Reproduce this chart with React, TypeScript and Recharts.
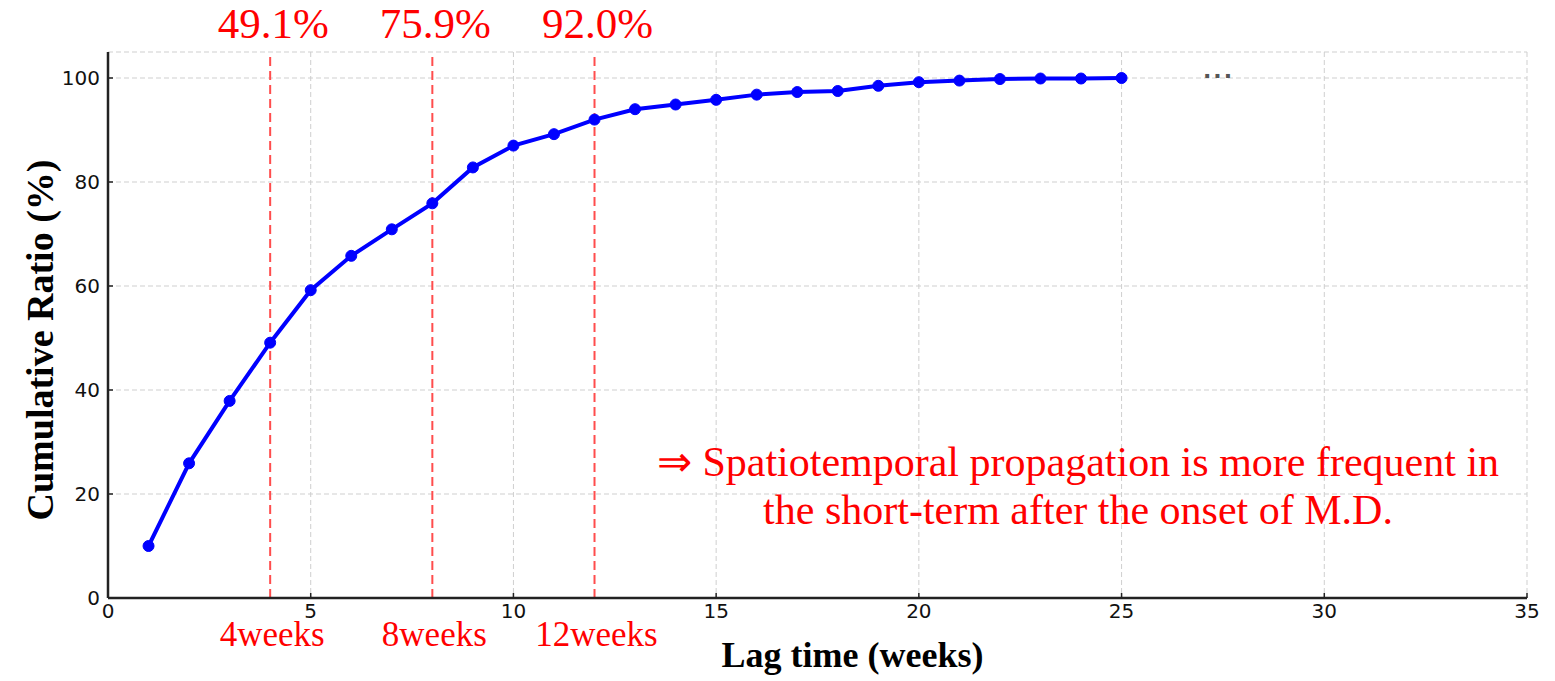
import { CartesianGrid, Line, LineChart, ReferenceLine, XAxis, YAxis } from "recharts";

const weeks = [1, 2, 3, 4, 5, 6, 7, 8, 9, 10, 11, 12, 13, 14, 15, 16, 17, 18, 19, 20, 21, 22, 23, 24, 25];
const cumulative = [
  10.0, 25.9, 37.9, 49.1, 59.2, 65.8, 70.9, 75.9, 82.8, 87.0, 89.2, 92.0, 94.0, 94.9, 95.8, 96.8, 97.3, 97.5,
  98.5, 99.2, 99.5, 99.8, 99.9, 99.9, 100.0,
];
const xTicks = [0, 5, 10, 15, 20, 25, 30, 35];
const yTicks = [0, 20, 40, 60, 80, 100];
const markers = [
  { week: 4, top: "49.1%", bottom: "4weeks" },
  { week: 8, top: "75.9%", bottom: "8weeks" },
  { week: 12, top: "92.0%", bottom: "12weeks" },
];
const note = [
  "\u21d2 Spatiotemporal propagation is more frequent in",
  "the short-term after the onset of M.D.",
];

const data = weeks.map((w, i) => ({ week: w, ratio: cumulative[i] }));

const SERIF = '"Liberation Serif", "Times New Roman", serif';
const SANS = '"DejaVu Sans", sans-serif';
const RED = "#ff0000";

function markerLabel(top: string, bottom: string) {
  return (props: any) => {
    const vb = props.viewBox || {};
    const x = vb.x ?? 0;
    const y = vb.y ?? 0;
    const h = vb.height ?? 0;
    return (
      <g>
        <text x={x + 3} y={y - 14} textAnchor="middle" fill={RED} fontFamily={SERIF} fontSize={43}>
          {top}
        </text>
        <text x={x + 2} y={y + h + 48} textAnchor="middle" fill={RED} fontFamily={SERIF} fontSize={35}>
          {bottom}
        </text>
      </g>
    );
  };
}

const XTick = (props: any) => (
  <text x={props.x} y={598 + 20} textAnchor="middle" fill="#111" fontFamily={SANS} fontSize={20}>
    {props.payload.value}
  </text>
);

const YTick = (props: any) => (
  <text x={100} y={props.y + 7} textAnchor="end" fill="#111" fontFamily={SANS} fontSize={20}>
    {props.payload.value}
  </text>
);

export default function App() {
  return (
    <div style={{ position: "absolute", left: 0, top: 0, width: 1555, height: 681, background: "#fff" }}>
      <LineChart width={1555} height={681} data={data} margin={{ top: 52, right: 28, left: 8, bottom: 8 }}>
        <CartesianGrid stroke="#cfcfcf" strokeDasharray="5 3" />
        <XAxis
          dataKey="week"
          type="number"
          domain={[0, 35]}
          ticks={xTicks}
          height={75}
          stroke="#222"
          strokeWidth={2.5}
          tickLine={{ stroke: "#222", strokeWidth: 1.5 }}
          tickSize={-5}
          tick={XTick}
          label={(props: any) => {
            const vb = props.viewBox || {};
            return (
              <text
                x={(vb.x ?? 0) + (vb.width ?? 0) / 2 + 35}
                y={667}
                textAnchor="middle"
                fontFamily={SERIF}
                fontWeight="bold"
                fontSize={36}
                fill="#000"
              >
                Lag time (weeks)
              </text>
            );
          }}
        />
        <YAxis
          type="number"
          domain={[0, 105]}
          ticks={yTicks}
          width={100}
          stroke="#222"
          strokeWidth={2.5}
          tickLine={{ stroke: "#222", strokeWidth: 1.5 }}
          tickSize={-5}
          tick={YTick}
          label={(props: any) => {
            const vb = props.viewBox || {};
            const cy = (vb.y ?? 0) + (vb.height ?? 0) / 2 + 15;
            return (
              <text
                x={40}
                y={cy}
                transform={`rotate(-90, 40, ${cy})`}
                textAnchor="middle"
                dominantBaseline="central"
                fontFamily={SERIF}
                fontWeight="bold"
                fontSize={38}
                fill="#000"
              >
                Cumulative Ratio (%)
              </text>
            );
          }}
        />
        {markers.map((m) => (
          <ReferenceLine
            key={m.week}
            x={m.week}
            stroke="#ff4d4d"
            strokeWidth={2}
            strokeDasharray="9 5"
            label={markerLabel(m.top, m.bottom)}
          />
        ))}
        <Line
          type="linear"
          dataKey="ratio"
          stroke="#0000ff"
          strokeWidth={4}
          dot={{ r: 5.5, fill: "#0000ff", stroke: "#0000ff", strokeWidth: 1 }}
          activeDot={false}
          isAnimationActive={false}
        />
      </LineChart>
      <div
        style={{
          position: "absolute",
          left: 1203,
          top: 58,
          fontFamily: SANS,
          fontWeight: "bold",
          fontSize: 22,
          color: "#555",
          letterSpacing: 2,
        }}
      >
        ...
      </div>
      <div
        style={{
          position: "absolute",
          left: 478,
          width: 1200,
          top: 438,
          textAlign: "center",
          fontFamily: SERIF,
          fontSize: 42,
          lineHeight: "48px",
          color: RED,
        }}
      >
        {note.map((t) => (
          <div key={t}>{t}</div>
        ))}
      </div>
    </div>
  );
}
